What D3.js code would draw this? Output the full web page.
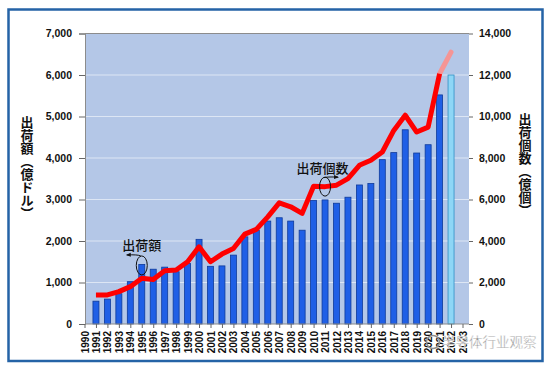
<!DOCTYPE html>
<html>
  <head>
    <meta charset="utf-8">
    <script src="https://d3js.org/d3.v7.min.js"></script>
    <style>
      body { margin: 0px; background: #fff; }
      .tick text { font-family: Arial, "Liberation Sans", sans-serif; font-weight: bold; font-size: 10.5px; fill: #111; }
      .tick line { stroke: #666; }
      .domain { stroke: #8c8c8c; }
      .jp { font-family: "Noto Sans CJK JP", sans-serif; fill: #111; }
    </style>
  </head>
  <body>
    <svg width="553" height="368"></svg>
    <script>
      // years on the x axis, 1990..2023
      const years = d3.range(1990, 2024);
      // shipment value, 100M USD (left axis)
      const barYears = [1991, 1992, 1993, 1994, 1995, 1996, 1997, 1998, 1999, 2000,
                        2001, 2002, 2003, 2004, 2005, 2006, 2007, 2008, 2009, 2010,
                        2011, 2012, 2013, 2014, 2015, 2016, 2017, 2018, 2019, 2020,
                        2021, 2022];
      const amount = [550, 600, 730, 1020, 1435, 1320, 1370, 1260, 1460, 2040,
                      1390, 1400, 1660, 2100, 2260, 2480, 2560, 2480, 2260, 2980,
                      2990, 2910, 3055, 3350, 3385, 3960, 4130, 4680, 4120, 4320,
                      5520, 6000];
      // shipment units, 100M pcs (right axis)
      const units = [1400, 1400, 1560, 1800, 2200, 2150, 2570, 2600, 3000, 3720,
                     3000, 3370, 3640, 4330, 4560, 5160, 5840, 5650, 5330, 6640,
                     6620, 6690, 7010, 7650, 7890, 8290, 9330, 10060, 9250, 9490,
                     12060, 13100];
      const forecastYear = 2022;
      const leftTicks = d3.range(0, 7001, 1000);
      const rightTicks = d3.range(0, 14001, 2000);

      const svg = d3.select('svg');
      const plot = { left: 85, right: 469, top: 33.5, bottom: 324 };

      const x = d3.scalePoint().domain(years).range([84.5, 462.5]);
      const yL = d3.scaleLinear().domain([0, 7000]).range([plot.bottom, plot.top]);
      const yR = d3.scaleLinear().domain([0, 14000]).range([plot.bottom, plot.top]);

      // outer frame
      svg.append('rect')
          .attr('x', 8.5).attr('y', 9.5)
          .attr('width', 534).attr('height', 351.5)
          .attr('fill', '#fff')
          .attr('stroke', '#2563a6')
          .attr('stroke-width', 2.5);

      // plot background
      svg.append('rect')
          .attr('x', plot.left).attr('y', plot.top)
          .attr('width', plot.right - plot.left)
          .attr('height', plot.bottom - plot.top)
          .attr('fill', '#b4c7e7');
      svg.append('line')
          .attr('x1', plot.left).attr('x2', plot.right)
          .attr('y1', plot.top).attr('y2', plot.top)
          .attr('stroke', '#8c8c8c');

      // gridlines
      svg.append('g').selectAll('line')
        .data(leftTicks.slice(1, -1))
        .enter().append('line')
          .attr('x1', plot.left).attr('x2', plot.right)
          .attr('y1', d => yL(d)).attr('y2', d => yL(d))
          .attr('stroke', '#dde6f4')
          .attr('stroke-width', 1);

      // bars
      const bw = 6;
      svg.append('g').selectAll('rect')
        .data(barYears.map((yr, i) => ({ yr, v: amount[i] })))
        .enter().append('rect')
          .attr('x', d => x(d.yr) - bw / 2)
          .attr('y', d => yL(d.v))
          .attr('width', bw)
          .attr('height', d => yL(0) - yL(d.v))
          .attr('fill', d => d.yr === forecastYear ? '#8ed6f6' : '#1f5fe6')
          .attr('stroke', d => d.yr === forecastYear ? '#2f8fc4' : '#0e3a9a')
          .attr('stroke-width', 0.8);

      // units line
      const pts = barYears.map((yr, i) => ({ yr, v: units[i] }));
      const line = d3.line().x(d => x(d.yr)).y(d => yR(d.v));
      svg.append('path')
          .datum(pts.filter(d => d.yr >= 2021))
          .attr('d', line)
          .attr('fill', 'none')
          .attr('stroke', '#f59595')
          .attr('stroke-width', 5)
          .attr('stroke-linecap', 'round');
      svg.append('path')
          .datum(pts.filter(d => d.yr <= 2021))
          .attr('d', line)
          .attr('fill', 'none')
          .attr('stroke', '#ff0000')
          .attr('stroke-width', 5)
          .attr('stroke-linejoin', 'round');

      // axes
      svg.append('g')
          .attr('transform', `translate(${plot.left},0)`)
          .call(d3.axisLeft(yL).tickValues(leftTicks).tickFormat(d3.format(',')).tickSize(6).tickPadding(7));
      const rightAxis = svg.append('g')
          .attr('transform', `translate(${plot.right},0)`)
          .call(d3.axisRight(yR).tickValues(rightTicks).tickFormat(d3.format(',')).tickSize(4).tickPadding(6));
      rightAxis.select('.domain').remove();
      const xAxis = svg.append('g')
          .attr('transform', `translate(0,${plot.bottom})`)
          .call(d3.axisBottom(x).tickSize(4).tickPadding(4).tickSizeOuter(0));
      xAxis.select('.domain').attr('d', `M${plot.left},0H${plot.right}`);
      xAxis.selectAll('.tick text')
          .attr('transform', 'rotate(-90)')
          .attr('text-anchor', 'end')
          .attr('x', -7)
          .attr('y', 0)
          .attr('dy', '0.35em')
          .style('font-size', '10px');

      // axis titles (vertical)
      svg.append('text')
          .attr('class', 'jp')
          .attr('x', 27).attr('y', 116)
          .style('writing-mode', 'vertical-rl')
          .style('font-size', '13px')
          .style('font-weight', 'bold')
          .text('出荷額（億ドル）');
      svg.append('text')
          .attr('class', 'jp')
          .attr('x', 525).attr('y', 113)
          .style('writing-mode', 'vertical-rl')
          .style('font-size', '13px')
          .style('font-weight', 'bold')
          .text('出荷個数（億個）');

      // annotations
      const defs = svg.append('defs');
      defs.append('marker')
          .attr('id', 'arr')
          .attr('viewBox', '0 0 10 10')
          .attr('refX', 8).attr('refY', 5)
          .attr('markerWidth', 5).attr('markerHeight', 5)
          .attr('orient', 'auto')
        .append('path')
          .attr('d', 'M0,1L10,5L0,9Z')
          .attr('fill', '#111');

      const a1 = { cx: x(1995), cy: yL(amount[barYears.indexOf(1995)]) + 1 };
      svg.append('ellipse')
          .attr('cx', a1.cx).attr('cy', a1.cy)
          .attr('rx', 5.5).attr('ry', 9.5)
          .attr('fill', 'none').attr('stroke', '#111').attr('stroke-width', 1);
      svg.append('path')
          .attr('d', `M${a1.cx - 1},${a1.cy - 9.5}Q${a1.cx - 4},${a1.cy - 11} ${a1.cx - 15},${a1.cy - 10.5}`)
          .attr('fill', 'none').attr('stroke', '#111').attr('stroke-width', 1)
          .attr('marker-end', 'url(#arr)');
      svg.append('text')
          .attr('class', 'jp')
          .attr('x', a1.cx).attr('y', a1.cy - 15)
          .attr('text-anchor', 'middle')
          .style('font-size', '13px')
          .style('font-weight', '500')
          .text('出荷額');

      const a2 = { cx: x(2011), cy: yR(units[barYears.indexOf(2011)]) };
      svg.append('ellipse')
          .attr('cx', a2.cx).attr('cy', a2.cy)
          .attr('rx', 5.5).attr('ry', 9.5)
          .attr('fill', 'none').attr('stroke', '#111').attr('stroke-width', 1);
      svg.append('path')
          .attr('d', `M${a2.cx - 1},${a2.cy - 9}Q${a2.cx + 2},${a2.cy - 10} ${a2.cx + 13},${a2.cy - 9.5}`)
          .attr('fill', 'none').attr('stroke', '#111').attr('stroke-width', 1)
          .attr('marker-end', 'url(#arr)');
      svg.append('text')
          .attr('class', 'jp')
          .attr('x', a2.cx - 2.5).attr('y', a2.cy - 14)
          .attr('text-anchor', 'middle')
          .style('font-size', '13px')
          .style('font-weight', '500')
          .text('出荷個数');

      // watermark
      const wm = svg.append('g');
      wm.append('circle')
          .attr('cx', 433).attr('cy', 342).attr('r', 6.5)
          .attr('fill', 'none').attr('stroke', '#8f8f8f').attr('stroke-width', 1.5);
      wm.append('text')
          .attr('x', 442).attr('y', 347)
          .style('font-family', '"Noto Sans CJK SC", sans-serif')
          .style('font-size', '13.5px')
          .attr('fill', '#8a8a8a')
          .attr('stroke', '#fff').attr('stroke-width', 0.4)
          .text('半导体行业观察');
    </script>
  </body>
</html>
